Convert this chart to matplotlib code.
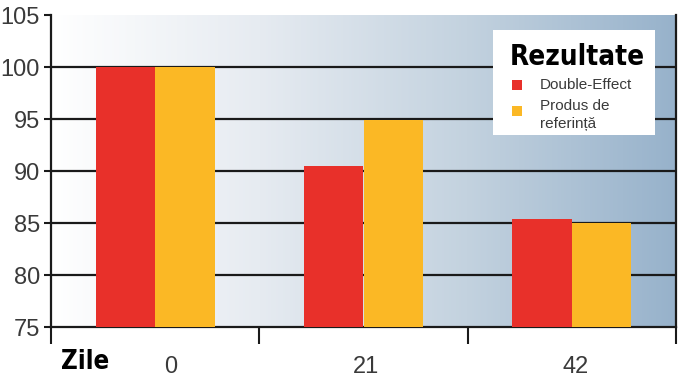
import numpy as np
import matplotlib.pyplot as plt
from matplotlib.colors import LinearSegmentedColormap
from matplotlib.patches import Rectangle
from matplotlib.transforms import ScaledTranslation

days = ['0', '21', '42']
double_effect = [100.0, 90.5, 85.4]
produs_ref = [100.0, 94.9, 85.0]
series_names = ['Double-Effect', 'Produs de\nreferință']
legend_title = 'Rezultate'
x_title = 'Zile'
y_ticks = [75, 80, 85, 90, 95, 100, 105]

red = '#e8302a'
yellow = '#fbb825'
narrow = 'DejaVu Sans'
plt.rcParams['font.family'] = ['Liberation Sans', 'DejaVu Sans']

W, H = 678, 378
fig = plt.figure(figsize=(W / 100, H / 100), dpi=100)
fig.patch.set_facecolor('white')
ax = fig.add_axes([51 / W, 1 - 327 / H, (676 - 51) / W, (327 - 15) / H])

# background gradient, white -> steel blue
grad = LinearSegmentedColormap.from_list('bg', ['#ffffff', '#e6ebf1', '#c3d2df', '#97b2cb'])
ax.imshow(np.linspace(0, 1, 256).reshape(1, -1), cmap=grad, aspect='auto',
          extent=(0, 1, 0, 1), transform=ax.transAxes, zorder=0)

x = np.arange(len(days))
bw = 0.286
ax.bar(x - bw / 2, double_effect, bw, color=red, zorder=3)
ax.bar(x + bw / 2, produs_ref, bw, color=yellow, zorder=3)

ax.set_xlim(-0.5, len(days) - 0.5)
ax.set_ylim(75, 105)
for v in y_ticks[1:-1]:
    ax.axhline(v, color='#1a1a1a', lw=1.6, zorder=1)

ax.set_yticks(y_ticks)
ax.set_yticklabels([str(v) for v in y_ticks], fontsize=17, color='#3a3a3a')
ax.tick_params(axis='y', direction='out', length=5, width=1.5, pad=3, color='#1a1a1a')

ax.set_xticks(np.arange(len(days) + 1) - 0.5, minor=True)
ax.set_xticks(x)
ax.set_xticklabels(days, fontsize=17, color='#3a3a3a')
ax.tick_params(axis='x', which='major', length=0, pad=21)
ax.tick_params(axis='x', which='minor', direction='out', length=12, width=1.5, color='#1a1a1a')
# labels in the original sit a little right of the group centres
for lab, dx in zip(ax.get_xticklabels(), [16, 3, 4]):
    lab.set_transform(lab.get_transform() + ScaledTranslation(dx / 100, 0, fig.dpi_scale_trans))

ax.spines['top'].set_visible(False)
for s in ['left', 'bottom', 'right']:
    ax.spines[s].set_color('#1a1a1a')
    ax.spines[s].set_linewidth(1.6)
ax.spines['right'].set_zorder(5)

fig.text(61 / W, 1 - 362 / H, x_title, fontsize=18.5, fontweight='bold',
         family=narrow, fontstretch='condensed', va='center', ha='left', color='black')

# legend box
fig.patches.append(Rectangle((493 / W, 1 - 135 / H), (655 - 493) / W, (135 - 30) / H,
                             transform=fig.transFigure, facecolor='white',
                             edgecolor='none', zorder=10))
fig.text(510 / W, 1 - 57 / H, legend_title, fontsize=20, fontweight='bold',
         family=narrow, fontstretch='condensed', va='center', ha='left',
         color='black', zorder=11)
colors = [red, yellow]
ys = [85, 111]
for c, yy in zip(colors, ys):
    fig.patches.append(Rectangle((512 / W, 1 - (yy + 5) / H), 10 / W, 10 / H,
                                 transform=fig.transFigure, facecolor=c,
                                 edgecolor='none', zorder=11))
fig.text(540 / W, 1 - 85 / H, series_names[0], fontsize=11, va='center',
         ha='left', color='#3a3a3a', zorder=11)
fig.text(540 / W, 1 - 115 / H, series_names[1], fontsize=11, va='center',
         ha='left', color='#3a3a3a', linespacing=1.45, zorder=11)

fig.savefig('out.png', dpi=100)
